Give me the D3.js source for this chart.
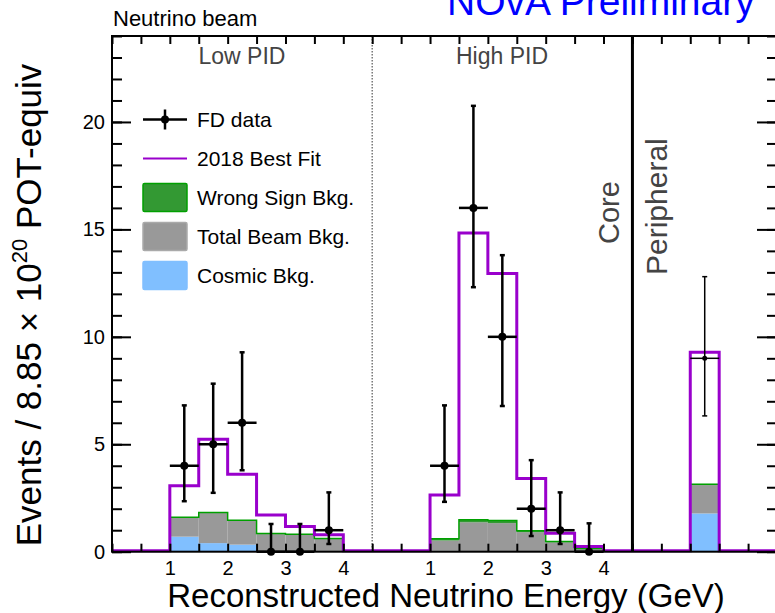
<!DOCTYPE html>
<html>
<head>
<meta charset="utf-8">
<script src="https://cdn.jsdelivr.net/npm/d3@7"></script>
<style>
  body { margin: 0; background: #fff; }
  svg { display: block; font-family: "Liberation Sans", Arial, Helvetica, sans-serif; }
</style>
</head>
<body>
<svg id="chart" width="775" height="613"></svg>
<script>
// reco energy bins inside each PID section (GeV)
const binLo = [1.0, 1.5, 2.0, 2.5, 3.0, 3.5];
const binWidth = 0.5;
const lowOffset = 0, highOffset = 4.5, periOffset = 9;

// Low PID
const lowData     = [4, 5, 6, 0, 0, 1];
const lowDataUp   = [6.81, 7.82, 9.28, 1.29, 1.29, 2.76];
const lowDataDown = [2.35, 2.74, 3.79, 0, 0, 0.36];
const lowBestFit  = [3.02, 5.19, 3.56, 1.66, 1.13, 0.74];
const lowCosmic   = [0.70, 0.40, 0.33, 0.03, 0.01, 0.01];
const lowBeam     = [0.87, 1.40, 1.10, 0.79, 0.78, 0.59];
const lowWS       = [0.03, 0.03, 0.03, 0.03, 0.02, 0.02];

// High PID
const highData     = [4, 16, 10, 2, 1, 0];
const highDataUp   = [6.81, 20.75, 13.8, 4.26, 2.76, 1.32];
const highDataDown = [2.32, 12.31, 6.78, 0.73, 0.36, 0];
const highBestFit  = [2.59, 14.78, 12.9, 3.36, 0.81, 0.2];
const highCosmic   = [0.04, 0.01, 0.01, 0, 0, 0];
const highBeam     = [0.48, 1.36, 1.32, 0.91, 0.44, 0.13];
const highWS       = [0.08, 0.12, 0.12, 0.07, 0.04, 0.02];

// Peripheral (single bin)
const periBinLo    = [1.0];
const periData     = [9];
const periDataUp   = [12.8];
const periDataDown = [6.32];
const periBestFit  = [9.24];
const periCosmic   = [1.78];
const periBeam     = [1.32];
const periWS       = [0.04];

const xTickLabels = [1, 2, 3, 4];
const yMajorTicks = [0, 5, 10, 15, 20];

const svg = d3.select("#chart");
const x = d3.scaleLinear().domain([0, 11.5]).range([112, 777]);
const y = d3.scaleLinear().domain([0, 24]).range([551.7, 36]);

const cGreen = "#339933", cGreenLine = "#00a000", cGrey = "#999999", cBlue = "#80bfff", cPurple = "#9900cc";

// put the sections together
const sections = [
  {off: lowOffset, lo: binLo, data: lowData, up: lowDataUp, down: lowDataDown, fit: lowBestFit, cos: lowCosmic, beam: lowBeam, ws: lowWS, thin: false},
  {off: highOffset, lo: binLo, data: highData, up: highDataUp, down: highDataDown, fit: highBestFit, cos: highCosmic, beam: highBeam, ws: highWS, thin: false},
  {off: periOffset, lo: periBinLo, data: periData, up: periDataUp, down: periDataDown, fit: periBestFit, cos: periCosmic, beam: periBeam, ws: periWS, thin: true}
];

// stacked backgrounds
const stackG = svg.append("g");
sections.forEach(s => {
  s.lo.forEach((e, i) => {
    const x0 = x(s.off + e), x1 = x(s.off + e + binWidth);
    const c = s.cos[i], b = c + s.beam[i], w = b + s.ws[i];
    stackG.append("rect").attr("x", x0).attr("width", x1 - x0)
      .attr("y", y(c)).attr("height", y(0) - y(c)).attr("fill", cBlue);
    stackG.append("rect").attr("x", x0).attr("width", x1 - x0)
      .attr("y", y(b)).attr("height", y(c) - y(b)).attr("fill", cGrey);
    stackG.append("rect").attr("x", x0).attr("width", x1 - x0)
      .attr("y", y(w)).attr("height", y(b) - y(w)).attr("fill", cGreen);
  });
  // green outline on top of the stack
  const pts = s.lo.map((e, i) => [s.off + e, s.cos[i] + s.beam[i] + s.ws[i]]);
  const last = s.lo[s.lo.length - 1];
  pts.push([s.off + last + binWidth, pts[pts.length - 1][1]]);
  stackG.append("path")
    .attr("d", d3.line().x(d => x(d[0])).y(d => y(d[1])).curve(d3.curveStepAfter)(pts))
    .attr("fill", "none").attr("stroke", cGreenLine).attr("stroke-width", 1.5);
});

// best fit histogram over the whole range
const fitPts = [[0, 0]];
sections.forEach(s => {
  s.lo.forEach((e, i) => fitPts.push([s.off + e, s.fit[i]]));
  fitPts.push([s.off + s.lo[s.lo.length - 1] + binWidth, 0]);
});
fitPts.push([11.5, 0]);
svg.append("path")
  .attr("d", d3.line().x(d => x(d[0])).y(d => y(d[1]) - 1).curve(d3.curveStepAfter)(fitPts))
  .attr("fill", "none").attr("stroke", cPurple).attr("stroke-width", 3);

// section separators
svg.append("line").attr("x1", x(4.5)).attr("x2", x(4.5)).attr("y1", y(24)).attr("y2", y(0))
  .attr("stroke", "#777").attr("stroke-width", 1.5).attr("stroke-dasharray", "1.5,1.5");
svg.append("line").attr("x1", x(9)).attr("x2", x(9)).attr("y1", y(24)).attr("y2", y(0))
  .attr("stroke", "#000").attr("stroke-width", 3);

// axes
function style(g) {
  g.select(".domain").remove();
  g.selectAll(".tick line").attr("stroke", "#000").attr("stroke-width", 2);
  g.selectAll("text").attr("font-family", "Liberation Sans, Arial, sans-serif").attr("fill", "#000");
}
const xAllTicks = d3.range(0, 11.51, 0.5);
svg.append("g").attr("transform", `translate(0,${y(0)})`)
  .call(d3.axisBottom(x).tickValues(xAllTicks).tickSize(-8).tickFormat(""))
  .call(style);
svg.append("g").attr("transform", `translate(0,${y(24)})`)
  .call(d3.axisTop(x).tickValues(xAllTicks).tickSize(-8).tickFormat(""))
  .call(style);
const labelVals = xTickLabels.map(v => v + lowOffset).concat(xTickLabels.map(v => v + highOffset));
svg.append("g").attr("transform", `translate(0,${y(0)})`)
  .call(d3.axisBottom(x).tickValues(labelVals).tickSize(0).tickPadding(9)
    .tickFormat(d => d > highOffset ? d - highOffset : d))
  .call(style)
  .call(g => g.selectAll("text").attr("font-size", 20));

svg.append("g").attr("transform", `translate(${x(0)},0)`)
  .call(d3.axisLeft(y).tickValues(d3.range(0, 25)).tickSize(-10).tickFormat(""))
  .call(style);
svg.append("g").attr("transform", `translate(${x(0)},0)`)
  .call(d3.axisLeft(y).tickValues(yMajorTicks).tickSize(-19).tickPadding(7))
  .call(style)
  .call(g => g.selectAll("text").attr("font-size", 20));
svg.append("g").attr("transform", `translate(${x(11.5)},0)`)
  .call(d3.axisRight(y).tickValues(d3.range(0, 25)).tickSize(-10).tickFormat(""))
  .call(style);
svg.append("g").attr("transform", `translate(${x(11.5)},0)`)
  .call(d3.axisRight(y).tickValues(yMajorTicks).tickSize(-20).tickFormat(""))
  .call(style);

// frame
svg.append("rect").attr("x", x(0)).attr("y", y(24)).attr("width", x(11.5) - x(0)).attr("height", y(0) - y(24))
  .attr("fill", "none").attr("stroke", "#000").attr("stroke-width", 2);

// data points
const dataG = svg.append("g").attr("stroke", "#000");
sections.forEach(s => {
  const sw = s.thin ? 1.5 : 2.5;
  s.lo.forEach((e, i) => {
    const xc = x(s.off + e + binWidth / 2);
    dataG.append("line").attr("x1", xc).attr("x2", xc).attr("y1", y(s.down[i])).attr("y2", y(s.up[i])).attr("stroke-width", sw);
    dataG.append("line").attr("x1", x(s.off + e)).attr("x2", x(s.off + e + binWidth))
      .attr("y1", y(s.data[i])).attr("y2", y(s.data[i])).attr("stroke-width", sw);
    [s.up[i], s.down[i]].forEach(v => {
      if (v > 0) dataG.append("line").attr("x1", xc - 2.5).attr("x2", xc + 2.5).attr("y1", y(v)).attr("y2", y(v)).attr("stroke-width", sw);
    });
    dataG.append("circle").attr("cx", xc).attr("cy", y(s.data[i])).attr("r", s.thin ? 2.5 : 4)
      .attr("fill", "#000").attr("stroke", "none");
  });
});

// legend
const leg = svg.append("g");
const legRows = [119.5, 158.5, 197.5, 236.5, 275.5];
const legText = ["FD data", "2018 Best Fit", "Wrong Sign Bkg.", "Total Beam Bkg.", "Cosmic Bkg."];
leg.append("line").attr("x1", 143).attr("x2", 187).attr("y1", legRows[0]).attr("y2", legRows[0]).attr("stroke", "#000").attr("stroke-width", 2.5);
leg.append("line").attr("x1", 165).attr("x2", 165).attr("y1", legRows[0] - 10).attr("y2", legRows[0] + 10).attr("stroke", "#000").attr("stroke-width", 2.5);
leg.append("circle").attr("cx", 165).attr("cy", legRows[0]).attr("r", 4).attr("fill", "#000");
leg.append("line").attr("x1", 143).attr("x2", 187).attr("y1", legRows[1]).attr("y2", legRows[1]).attr("stroke", cPurple).attr("stroke-width", 2);
[[cGreen, cGreenLine], [cGrey, "#aaaaaa"], [cBlue, cBlue]].forEach((c, i) => {
  leg.append("rect").attr("x", 143).attr("y", legRows[i + 2] - 14).attr("width", 44).attr("height", 28)
    .attr("rx", 1.5).attr("fill", c[0]).attr("stroke", c[1]).attr("stroke-width", 1.5);
});
legText.forEach((t, i) => {
  leg.append("text").attr("x", 197).attr("y", legRows[i] + 7.5).attr("font-size", 21).text(t);
});

// labels
svg.append("text").attr("x", 242).attr("y", 64).attr("font-size", 23).attr("fill", "#444").attr("text-anchor", "middle").text("Low PID");
svg.append("text").attr("x", 502).attr("y", 64).attr("font-size", 23).attr("fill", "#444").attr("text-anchor", "middle").text("High PID");
svg.append("text").attr("transform", "translate(619,244) rotate(-90)").attr("font-size", 29).attr("fill", "#444").text("Core");
svg.append("text").attr("transform", "translate(667,275) rotate(-90)").attr("font-size", 30).attr("fill", "#444").text("Peripheral");

svg.append("text").attr("x", 113).attr("y", 26).attr("font-size", 22).text("Neutrino beam");
svg.append("text").attr("x", 447).attr("y", 15).attr("font-size", 39).attr("fill", "#0000ff").text("NOvA Preliminary");

svg.append("text").attr("x", 446).attr("y", 607).attr("font-size", 33).attr("text-anchor", "middle")
  .text("Reconstructed Neutrino Energy (GeV)");

const yt = svg.append("text").attr("transform", "translate(41,305) rotate(-90)")
  .attr("font-size", 35).attr("text-anchor", "middle");
yt.append("tspan").text("Events / 8.85 \u00d7 10");
yt.append("tspan").attr("font-size", 22).attr("dy", -14).text("20");
yt.append("tspan").attr("dy", 14).text(" POT-equiv");
</script>
</body>
</html>
